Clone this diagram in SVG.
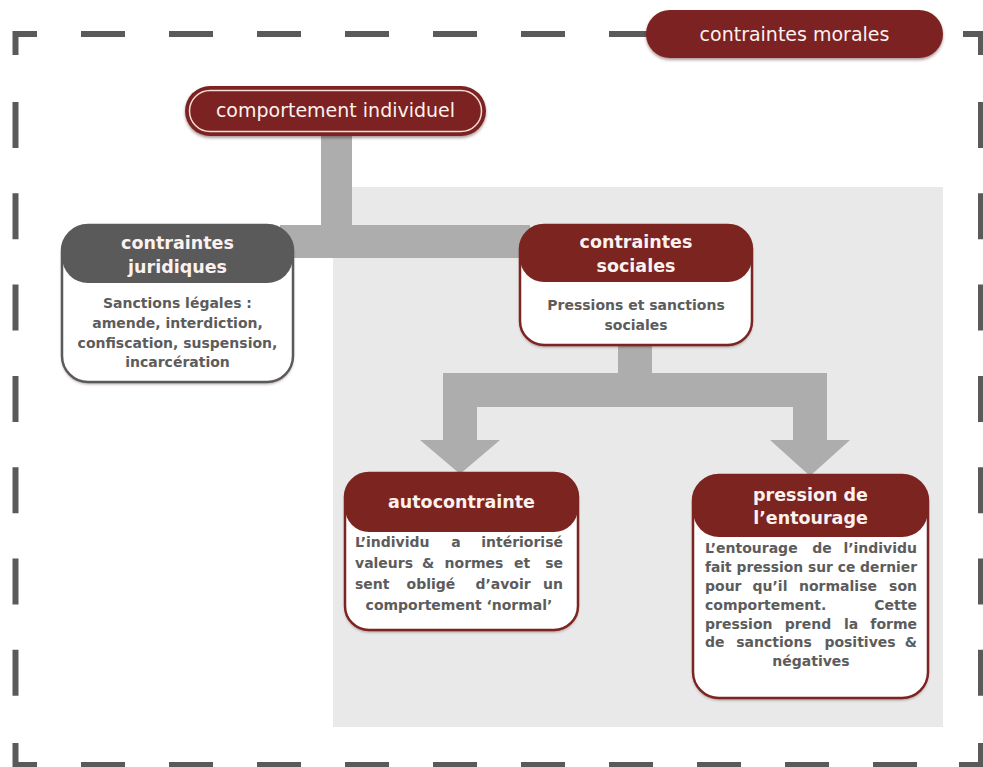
<svg xmlns="http://www.w3.org/2000/svg" width="983" height="767" viewBox="0 0 983 767">
  <defs>
    <style>
      .dash { fill: none; stroke: #5a5a5a; stroke-width: 6; stroke-linecap: butt; }
      .conn { fill: #adadad; }
      .red { fill: #7b2420; }
      .gray { fill: #5a5a5a; }
      .boxr { fill: none; stroke: #7b2420; stroke-width: 2.5; }
      .boxg { fill: none; stroke: #5a5a5a; stroke-width: 2.5; }
      .hd { font-family: "DejaVu Sans", "Liberation Sans", sans-serif; font-size: 19px; fill: #fbf1ee; text-anchor: middle; }
      .hb { font-family: "DejaVu Sans", "Liberation Sans", sans-serif; font-size: 17.5px; font-weight: bold; fill: #fbf1ee; text-anchor: middle; }
      .bd { font-family: "DejaVu Sans", "Liberation Sans", sans-serif; font-size: 14px; font-weight: bold; fill: #5c5c5c; }
      .c { text-anchor: middle; }
      .e { text-anchor: end; }
    </style>
    <filter id="sh" x="-10%" y="-10%" width="120%" height="130%">
      <feDropShadow dx="0" dy="2" stdDeviation="1.5" flood-color="#3a0a08" flood-opacity="0.4"/>
    </filter>
  </defs>

  <rect width="983" height="767" fill="#ffffff"/>

  <!-- dashed frame -->
  <g id="frame">
    <path class="dash" d="M15.5,55 V34 H37"/>
    <path class="dash" d="M963,34 H981 V55"/>
    <path class="dash" d="M15.5,743 V765 H37"/>
    <path class="dash" d="M959,765 H981 V743"/>
    <line class="dash" x1="81" y1="34" x2="917" y2="34" stroke-dasharray="44 44"/>
    <line class="dash" x1="81" y1="765" x2="917" y2="765" stroke-dasharray="44 44"/>
    <line class="dash" x1="15.5" y1="102" x2="15.5" y2="697" stroke-dasharray="46 45.3"/>
    <line class="dash" x1="981" y1="102" x2="981" y2="697" stroke-dasharray="46 45.3"/>
  </g>

  <!-- light grey area -->
  <rect id="social-area" x="333" y="187" width="610" height="540" fill="#e9e9e9"/>

  <!-- connectors -->
  <g id="connectors">
    <rect class="conn" x="321" y="135" width="31" height="123"/>
    <rect class="conn" x="280" y="225" width="250" height="33"/>
    <rect class="conn" x="618" y="340" width="34" height="67"/>
    <rect class="conn" x="443" y="373" width="384" height="34"/>
    <rect class="conn" x="443" y="373" width="34" height="68"/>
    <polygon class="conn" points="420,440 500,440 460,474"/>
    <rect class="conn" x="793" y="373" width="34" height="68"/>
    <polygon class="conn" points="770,440 850,440 810,476"/>
  </g>

  <!-- contraintes morales -->
  <g id="contraintes-morales">
    <rect class="red" x="646" y="10" width="297" height="48" rx="24" filter="url(#sh)"/>
    <text class="hd" x="794.5" y="41">contraintes morales</text>
  </g>

  <!-- comportement individuel -->
  <g id="comportement-individuel">
    <rect class="red" x="185" y="86" width="301" height="50" rx="25" filter="url(#sh)"/>
    <rect x="189.5" y="90.5" width="292" height="41" rx="20.5" fill="none" stroke="#f3dcd6" stroke-width="1.5"/>
    <text class="hd" x="335.5" y="117">comportement individuel</text>
  </g>

  <!-- contraintes juridiques -->
  <g id="contraintes-juridiques">
    <rect x="62" y="225" width="231" height="157" rx="26" fill="#ffffff" filter="url(#sh)"/>
    <rect class="gray" x="62" y="225" width="231" height="58" rx="26"/>
    <rect class="boxg" x="62" y="225" width="231" height="157" rx="26"/>
    <text class="hb" x="177.5" y="249">contraintes</text>
    <text class="hb" x="177.5" y="273">juridiques</text>
    <text class="bd c" x="177.5" y="308">Sanctions légales :</text>
    <text class="bd c" x="177.5" y="328">amende, interdiction,</text>
    <text class="bd c" x="177.5" y="348">confiscation, suspension,</text>
    <text class="bd c" x="177.5" y="367">incarcération</text>
  </g>

  <!-- contraintes sociales -->
  <g id="contraintes-sociales">
    <rect x="520" y="225" width="232" height="120" rx="24" fill="#ffffff" filter="url(#sh)"/>
    <rect class="red" x="520" y="225" width="232" height="57" rx="24"/>
    <rect class="boxr" x="520" y="225" width="232" height="120" rx="24"/>
    <text class="hb" x="636" y="248">contraintes</text>
    <text class="hb" x="636" y="272">sociales</text>
    <text class="bd c" x="636" y="310">Pressions et sanctions</text>
    <text class="bd c" x="636" y="330">sociales</text>
  </g>

  <!-- autocontrainte -->
  <g id="autocontrainte">
    <rect x="345" y="473" width="233" height="157" rx="24" fill="#ffffff" filter="url(#sh)"/>
    <rect class="red" x="345" y="473" width="233" height="59" rx="24"/>
    <rect class="boxr" x="345" y="473" width="233" height="157" rx="24"/>
    <text class="hb" x="461.5" y="508">autocontrainte</text>
    <text class="bd" x="355" y="547">L’individu</text>
    <text class="bd c" x="456" y="547">a</text>
    <text class="bd e" x="563" y="547">intériorisé</text>
    <text class="bd" x="355" y="568">valeurs</text>
    <text class="bd c" x="428" y="568">&amp;</text>
    <text class="bd c" x="474" y="568">normes</text>
    <text class="bd c" x="522" y="568">et</text>
    <text class="bd e" x="563" y="568">se</text>
    <text class="bd" x="355" y="589">sent</text>
    <text class="bd c" x="431" y="589">obligé</text>
    <text class="bd c" x="503" y="589">d’avoir</text>
    <text class="bd e" x="563" y="589">un</text>
    <text class="bd c" x="459" y="610">comportement ‘normal’</text>
  </g>

  <!-- pression de l'entourage -->
  <g id="pression-entourage">
    <rect x="693" y="475" width="235" height="223" rx="26" fill="#ffffff" filter="url(#sh)"/>
    <rect class="red" x="693" y="475" width="235" height="62" rx="26"/>
    <rect class="boxr" x="693" y="475" width="235" height="223" rx="26"/>
    <text class="hb" x="810.5" y="501">pression de</text>
    <text class="hb" x="810.5" y="524">l’entourage</text>
    <text class="bd" x="705" y="553">L’entourage</text>
    <text class="bd c" x="822" y="553">de</text>
    <text class="bd e" x="917" y="553">l’individu</text>
    <text class="bd" x="705" y="572" textLength="212" lengthAdjust="spacingAndGlyphs">fait pression sur ce dernier</text>
    <text class="bd" x="705" y="591">pour</text>
    <text class="bd c" x="770" y="591">qu’il</text>
    <text class="bd c" x="838" y="591">normalise</text>
    <text class="bd e" x="917" y="591">son</text>
    <text class="bd" x="705" y="610">comportement.</text>
    <text class="bd e" x="917" y="610">Cette</text>
    <text class="bd" x="705" y="628.5">pression</text>
    <text class="bd c" x="808" y="628.5">prend</text>
    <text class="bd c" x="851" y="628.5">la</text>
    <text class="bd e" x="917" y="628.5">forme</text>
    <text class="bd" x="705" y="647">de</text>
    <text class="bd c" x="774" y="647">sanctions</text>
    <text class="bd c" x="860" y="647">positives</text>
    <text class="bd e" x="917" y="647">&amp;</text>
    <text class="bd c" x="811" y="666">négatives</text>
  </g>
</svg>
